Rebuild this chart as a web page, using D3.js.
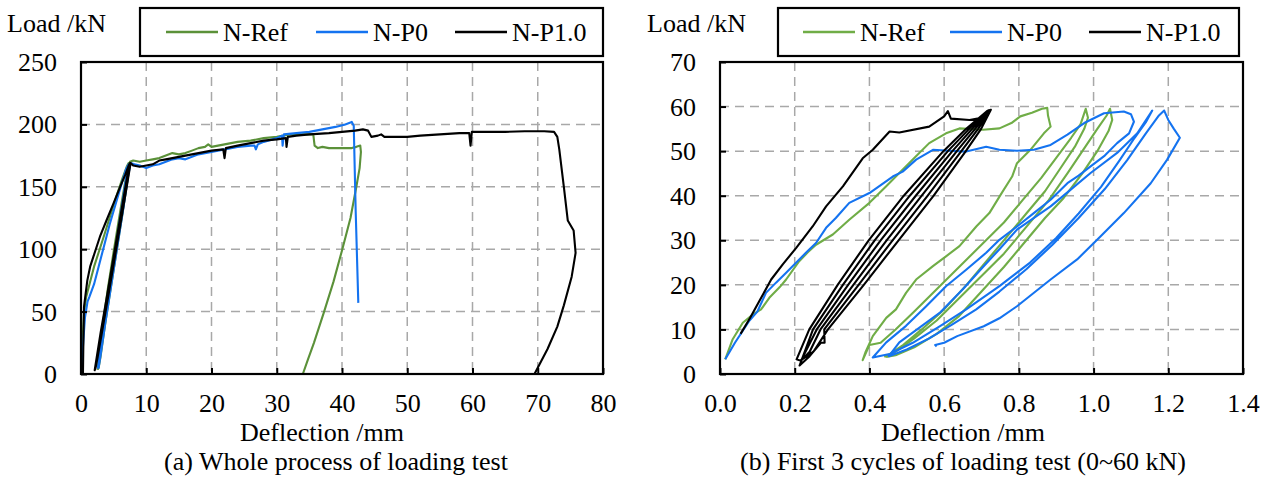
<!DOCTYPE html>
<html>
<head>
<meta charset="utf-8">
<script src="https://cdn.jsdelivr.net/npm/d3@7"></script>
<style>
  body { margin: 0; background: #fff; }
  text { font-family: "Liberation Serif", "Times New Roman", serif; fill: #000; }
</style>
</head>
<body>
<script>
// Load-deflection curves, two panels
// (a) whole loading test, (b) first 3 cycles 0~60 kN

const seriesNames = ['N-Ref', 'N-P0', 'N-P1.0'];

const wholeTicksX = [0, 10, 20, 30, 40, 50, 60, 70, 80];
const wholeTicksY = [0, 50, 100, 150, 200, 250];
const cycTicksX = [0, 0.2, 0.4, 0.6, 0.8, 1.0, 1.2, 1.4];
const cycTicksY = [0, 10, 20, 30, 40, 50, 60, 70];

// [deflection mm, load kN]
const wholeRef = [
  [0,0],[0.2,22],[0.45,48],[0.8,62],[1.3,72],[2.0,86],[2.8,99],[3.6,112],[4.5,127],[5.4,142],[6.3,156],[7.0,166],[7.3,169],
  [6.9,158],[6.0,130],[5.0,98],[4.1,68],[3.3,38],[2.8,16],[2.6,4],
  [2.9,14],[3.6,40],[4.5,70],[5.4,100],[6.3,130],[7.1,158],[7.4,169],
  [7.0,158],[6.1,130],[5.1,98],[4.2,68],[3.4,38],[2.9,16],[2.7,5],
  [3.0,14],[3.7,40],[4.6,70],[5.5,100],[6.4,130],[7.2,158],[7.5,170],
  [8.0,171],[9.0,170],[10,171],[11,172],[12,173],[13,175],[14,177],[15,176],[16,177],[17,179],[18,181],[19,182],[19.5,184],[20,182],
  [21,183],[22,184],[24,186],[26,187],[28,189],[30,190],[32,192],[34,192],[35.6,192],[35.8,183],[36.3,181],[37,182],[38,181],
  [40,181],[41.5,181],[42.2,182],[42.8,183],[42.9,178],[42.7,165],[42.2,150],[41.3,125],[40.0,99],[38.7,74],[37.2,49],[35.7,25],[34.8,12],[34.0,0]
];
const wholeP0 = [
  [0.1,0],[0.3,22],[0.6,45],[1.0,58],[1.3,62],[2.0,72],[2.8,88],[3.6,104],[4.4,120],[5.3,136],[6.2,152],[6.9,164],[7.3,168],
  [7.0,160],[6.2,132],[5.3,100],[4.4,70],[3.5,40],[2.9,18],[2.6,5],
  [2.9,15],[3.6,40],[4.5,70],[5.4,100],[6.3,130],[7.1,158],[7.4,168],
  [7.1,160],[6.3,132],[5.4,100],[4.5,70],[3.6,40],[3.0,18],[2.7,5],
  [3.0,15],[3.7,40],[4.6,70],[5.5,100],[6.4,130],[7.2,158],[7.6,169],
  [8.2,168],[9,167],[10,165],[11,167],[12,168],[13,170],[14,172],[15,173],[16,172],[17,174],[18,176],[20,178],[22,180],[24,182],
  [26,183],[26.6,183],[26.8,180],[27.1,184],[28,186],[30,189],[30.8,191],[30.9,183],[31.1,192],[33,193],[35,194],[37,196],
  [39,198],[40.5,200],[41.5,202],[41.8,199],[42.1,130],[42.5,57]
];
const wholeP1 = [
  [0.3,0],[0.35,20],[0.46,54],[0.97,75],[1.4,86],[1.9,94],[2.9,110],[3.9,123],[5.0,137],[6.0,150],[6.8,160],[7.3,167],[7.5,169],
  [7.1,158],[6.1,127],[5.1,96],[4.1,65],[3.1,35],[2.4,13],[2.1,3],
  [2.4,12],[3.2,36],[4.2,66],[5.2,97],[6.2,128],[7.0,153],[7.4,168],
  [7.0,156],[6.0,125],[5.0,94],[4.0,63],[3.0,33],[2.4,13],[2.2,4],
  [2.5,12],[3.3,36],[4.3,66],[5.3,97],[6.3,128],[7.1,153],[7.6,169],
  [8,167],[9,166],[10,167],[11,168],[12,171],[13,172],[14,173],[15,174],[16,175],[18,177],[20,179],[21.8,180],[22,173],[22.2,181],
  [24,183],[26,185],[28,187],[30,188],[31.4,189],[31.5,182],[31.7,190],[33,191],[35,192],[38,193],[40,194],[42,195],[43.2,196],
  [44,195],[44.5,190],[45.5,191],[46,192],[46.5,190],[48,190],[50,190],[52,191],[55,192],[58,193],[59.5,193],[59.7,183],[59.9,194],
  [62,194],[65,194],[68,194.5],[71,194.5],[72.5,194],[73,190],[73.3,180],[74,150],[74.6,123],[75.5,115],[75.8,97],[75.2,78],
  [74,55],[73,38],[71.5,20],[70.3,8],[69.5,0]
];

const cycRef = [
  [0.014,3.3],[0.034,7.8],[0.061,11.5],[0.09,13.5],[0.11,14.5],[0.132,17.1],[0.16,19.5],[0.177,21.2],[0.212,25.3],[0.235,27.3],
  [0.257,29],[0.302,31.3],[0.346,34.6],[0.40,38.4],[0.445,42.1],[0.48,45.1],[0.516,48.1],[0.56,51.8],[0.605,54],[0.641,55.1],
  [0.704,54.8],[0.748,55.1],[0.78,56.3],[0.804,57.8],[0.835,58.6],[0.862,59.5],[0.876,59.7],
  [0.878,58.0],[0.885,55.5],[0.867,54],[0.831,50.3],[0.795,47.3],[0.782,44.3],[0.751,40.2],[0.721,36.1],[0.686,33.1],
  [0.641,28.7],[0.605,26.4],[0.57,24.2],[0.525,21.2],[0.498,18.2],[0.471,14.5],[0.445,12.6],[0.409,8.5],[0.39,5],[0.382,3.1],
  [0.40,6.5],[0.43,7],[0.47,10],[0.52,14],[0.58,19],[0.64,24],[0.70,29],[0.76,34],[0.81,39],[0.86,44],[0.90,48.5],[0.94,53],
  [0.965,56],[0.979,59.5],
  [0.985,57.5],[0.975,55],[0.95,51],[0.91,46],[0.87,41],[0.82,36],[0.77,31],[0.72,26],[0.66,20],[0.60,14.5],[0.54,10],
  [0.49,6.5],[0.455,4.5],[0.442,3.9],
  [0.47,5],[0.52,8],[0.58,12],[0.64,17],[0.70,22],[0.76,27],[0.82,33],[0.88,39],[0.93,45],[0.97,50],[1.01,55],[1.035,58],[1.044,59.5],
  [1.05,57],[1.04,54.5],[1.01,50],[0.97,45],[0.92,39.5],[0.87,35],[0.82,30],[0.76,24],[0.70,18.5],[0.64,13],[0.58,9],[0.52,6],
  [0.47,4.2],[0.445,3.8]
];
const cycP0 = [
  [0.014,3.3],[0.04,7],[0.079,12],[0.1,14],[0.123,18.2],[0.15,20.5],[0.177,22.7],[0.23,27.2],[0.257,29.4],[0.284,32.8],[0.31,35],
  [0.346,38.4],[0.40,40.6],[0.4625,44.3],[0.489,45.4],[0.525,48.1],[0.57,50.3],[0.614,50.1],[0.659,49.9],[0.7125,51],[0.748,50.3],
  [0.795,50.1],[0.84,50.3],[0.885,51.4],[0.93,53.7],[0.975,56.3],[1.028,58.5],[1.081,58.9],[1.1,58.3],[1.108,56.6],
  [1.095,54],[1.063,51.8],[1.03,49],[0.992,46.6],[0.96,44.5],[0.93,42.8],[0.885,39.1],[0.84,36.1],[0.795,33.1],[0.748,30.1],
  [0.7125,27.2],[0.659,23.4],[0.605,19.7],[0.552,15.2],[0.498,10.8],[0.445,7.1],[0.409,3.7],
  [0.454,4.5],[0.516,7.0],[0.588,10.7],[0.659,14.5],[0.748,19.7],[0.83,25],[0.9,30.5],[0.96,36],[1.02,42],[1.07,48],[1.11,53],
  [1.14,56.5],[1.157,59.1],
  [1.117,54],[1.063,49.6],[0.992,45.1],[0.938,41.3],[0.885,37.6],[0.795,32.4],[0.748,28],[0.704,24],[0.65,19],[0.588,13.7],
  [0.534,10.4],[0.48,7.1],[0.452,4.0],
  [0.50,5.5],[0.56,8],[0.62,11],[0.686,14.5],[0.748,18.5],[0.82,23.5],[0.89,29],[0.96,35],[1.03,41.5],[1.09,48],[1.14,54],
  [1.175,58],[1.189,59.1],
  [1.20,57],[1.215,55],[1.231,53],[1.197,48.1],[1.153,42.8],[1.081,36.1],[1.019,30.9],[0.956,25.7],[0.885,21.2],[0.795,15.2],
  [0.748,12.5],[0.706,10.7],[0.635,8.5],[0.60,7],[0.576,6.5],[0.58,6.2]
];
const cycP1 = [
  [0.055,9],[0.08,12.5],[0.105,16.3],[0.137,21.2],[0.168,24.6],[0.204,28.3],[0.248,33.1],[0.284,37.6],[0.329,42.1],[0.382,48.4],
  [0.409,50.3],[0.454,54.4],[0.48,54.2],[0.56,55.5],[0.60,57.8],[0.61,59],[0.618,57.3],[0.668,57.0],[0.70,57.5],[0.72,59.2],
  [0.715,59],[0.659,55],[0.598,50],[0.492,40],[0.398,30],[0.315,20],[0.239,10],[0.205,3.3],
  [0.215,3],[0.25,5],[0.289,10],[0.385,20],[0.478,30],[0.572,40],[0.658,50],[0.699,55],[0.725,59.3],
  [0.717,59],[0.667,55],[0.61,50],[0.508,40],[0.414,30],[0.329,20],[0.249,10],[0.213,1.9],
  [0.24,4],[0.27,7],[0.28,7],[0.279,10],[0.371,20],[0.462,30],[0.556,40],[0.646,50],[0.691,55],[0.723,59.1],
  [0.719,59],[0.675,55],[0.622,50],[0.524,40],[0.43,30],[0.343,20],[0.259,10],[0.217,3],
  [0.24,5],[0.269,10],[0.357,20],[0.446,30],[0.54,40],[0.634,50],[0.683,55],[0.721,59]
];

const wholeData = [wholeRef, wholeP0, wholeP1];
const cycData = [cycRef, cycP0, cycP1];

const W = 1269, H = 481;
const svg = d3.select('body').append('svg')
    .attr('width', W)
    .attr('height', H);

function drawPanel(cfg) {
    const xScale = d3.scaleLinear().domain(cfg.xDomain).range([cfg.left, cfg.right]);
    const yScale = d3.scaleLinear().domain(cfg.yDomain).range([cfg.bottom, cfg.top]);
    const g = svg.append('g');

    // grid
    g.selectAll('.vgrid').data(cfg.ticksX.slice(1, -1)).enter().append('line')
        .attr('x1', d => xScale(d)).attr('x2', d => xScale(d))
        .attr('y1', cfg.top).attr('y2', cfg.bottom)
        .attr('stroke', '#a8a8a8').attr('stroke-width', 1.5).attr('stroke-dasharray', '9,6');
    g.selectAll('.hgrid').data(cfg.ticksY.slice(1, -1)).enter().append('line')
        .attr('y1', d => yScale(d)).attr('y2', d => yScale(d))
        .attr('x1', cfg.left).attr('x2', cfg.right)
        .attr('stroke', '#a8a8a8').attr('stroke-width', 1.5).attr('stroke-dasharray', '9,6');

    const line = d3.line().x(d => xScale(d[0])).y(d => yScale(d[1]));
    cfg.data.forEach((s, i) => {
        g.append('path')
            .datum(s)
            .attr('d', line)
            .attr('fill', 'none')
            .attr('stroke', cfg.colors[i])
            .attr('stroke-width', 2.1)
            .attr('stroke-linejoin', 'round');
    });

    // axes: ticks inside
    g.append('g')
        .attr('transform', `translate(0,${cfg.bottom})`)
        .call(d3.axisBottom(xScale).tickValues(cfg.ticksX).tickSize(-6).tickPadding(14).tickFormat(cfg.fmtX))
        .call(a => a.select('.domain').remove())
        .call(a => a.selectAll('line').attr('stroke', '#000').attr('stroke-width', 2))
        .call(a => a.selectAll('text').attr('font-size', 26).attr('y', 38).attr('dy', 0)
            .style('font-family', '"Liberation Serif", serif'));
    g.append('g')
        .attr('transform', `translate(${cfg.left},0)`)
        .call(d3.axisLeft(yScale).tickValues(cfg.ticksY).tickSize(-6).tickPadding(24))
        .call(a => a.select('.domain').remove())
        .call(a => a.selectAll('line').attr('stroke', '#000').attr('stroke-width', 2))
        .call(a => a.selectAll('text').attr('font-size', 26).attr('x', -24).attr('dy', '0.33em')
            .style('font-family', '"Liberation Serif", serif'));

    g.append('rect')
        .attr('x', cfg.left).attr('y', cfg.top)
        .attr('width', cfg.right - cfg.left).attr('height', cfg.bottom - cfg.top)
        .attr('fill', 'none').attr('stroke', '#000').attr('stroke-width', 2.2);

    g.append('text').attr('x', cfg.yLabelX).attr('y', 32).attr('font-size', 26).text('Load /kN');
    g.append('text').attr('x', cfg.xLabelX).attr('y', 441).attr('font-size', 26)
        .attr('text-anchor', 'middle').text('Deflection /mm');
    g.append('text').attr('x', cfg.capX).attr('y', 470).attr('font-size', 26)
        .attr('text-anchor', 'middle').text(cfg.caption);

    // legend
    const lg = cfg.legend;
    g.append('rect')
        .attr('x', lg.x0).attr('y', 8).attr('width', lg.x1 - lg.x0).attr('height', 48)
        .attr('fill', '#fff').attr('stroke', '#000').attr('stroke-width', 2.2);
    seriesNames.forEach((name, i) => {
        g.append('line')
            .attr('x1', lg.lines[i]).attr('x2', lg.lines[i] + 52)
            .attr('y1', 32).attr('y2', 32)
            .attr('stroke', cfg.colors[i]).attr('stroke-width', 2.5);
        g.append('text')
            .attr('x', lg.lines[i] + 57).attr('y', 41).attr('font-size', 26)
            .text(name);
    });
}

drawPanel({
    left: 81, right: 603, top: 62, bottom: 374,
    xDomain: [0, 80], yDomain: [0, 250],
    ticksX: wholeTicksX, ticksY: wholeTicksY, fmtX: d3.format('d'),
    data: wholeData, colors: ['#5b9139', '#1473f0', '#000000'],
    yLabelX: 7, xLabelX: 322, capX: 336,
    caption: '(a) Whole process of loading test',
    legend: {x0: 140, x1: 603, lines: [166, 316, 455]}
});

drawPanel({
    left: 720, right: 1243, top: 62, bottom: 374,
    xDomain: [0, 1.4], yDomain: [0, 70],
    ticksX: cycTicksX, ticksY: cycTicksY, fmtX: d3.format('.1f'),
    data: cycData, colors: ['#70ad47', '#1473f0', '#000000'],
    yLabelX: 647, xLabelX: 963, capX: 963,
    caption: '(b) First 3 cycles of loading test (0~60 kN)',
    legend: {x0: 778, x1: 1239, lines: [803, 950, 1089]}
});
</script>
</body>
</html>
